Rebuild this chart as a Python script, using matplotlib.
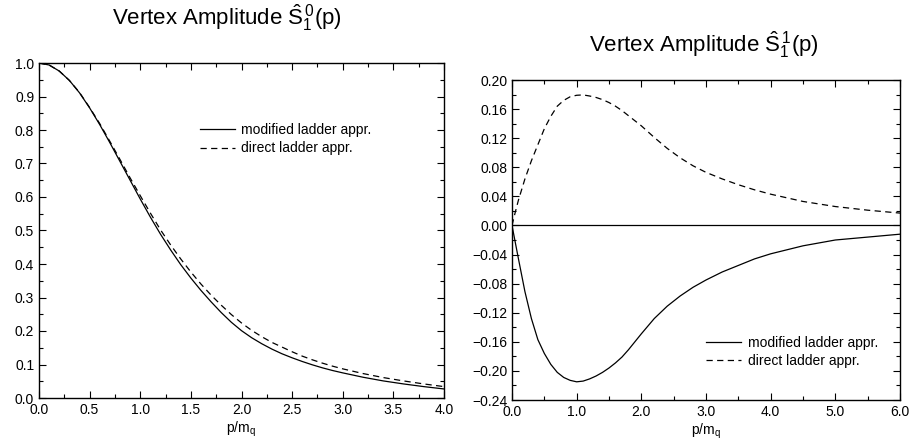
import numpy as np
import matplotlib
matplotlib.use("Agg")
import matplotlib.pyplot as plt
from matplotlib.ticker import MultipleLocator, FuncFormatter

plt.rcParams['font.family'] = ['Liberation Sans', 'DejaVu Sans']
plt.rcParams['mathtext.fontset'] = 'custom'
plt.rcParams['mathtext.rm'] = 'Liberation Sans'
plt.rcParams['mathtext.it'] = 'Liberation Sans:italic'

# left panel: S_1^0(p)
p_left = [0.0, 0.1, 0.2, 0.3, 0.4, 0.5, 0.6, 0.7, 0.8, 0.9, 1.0, 1.1, 1.2,
          1.3, 1.4, 1.5, 1.6, 1.7, 1.8, 1.9, 2.0, 2.1, 2.2, 2.3, 2.4, 2.5,
          2.6, 2.7, 2.8, 2.9, 3.0, 3.2, 3.4, 3.6, 3.8, 4.0]
s0_modified = [1.000, 0.994, 0.976, 0.948, 0.911, 0.866, 0.816, 0.762, 0.706,
               0.650, 0.594, 0.540, 0.489, 0.442, 0.398, 0.358, 0.321, 0.287,
               0.255, 0.226, 0.201, 0.180, 0.162, 0.146, 0.132, 0.120, 0.109,
               0.099, 0.090, 0.082, 0.075, 0.062, 0.051, 0.042, 0.034, 0.027]
s0_direct = [1.000, 0.994, 0.976, 0.948, 0.912, 0.867, 0.819, 0.766, 0.712,
             0.657, 0.604, 0.552, 0.502, 0.457, 0.415, 0.376, 0.340, 0.307,
             0.277, 0.249, 0.224, 0.202, 0.183, 0.166, 0.152, 0.138, 0.125,
             0.114, 0.104, 0.095, 0.087, 0.073, 0.061, 0.051, 0.042, 0.034]

# right panel: S_1^1(p)
p_right = [0.0, 0.05, 0.1, 0.2, 0.3, 0.4, 0.5, 0.6, 0.7, 0.8, 0.9, 1.0, 1.1,
           1.2, 1.3, 1.4, 1.5, 1.6, 1.7, 1.8, 1.9, 2.0, 2.2, 2.4, 2.6, 2.8,
           3.0, 3.25, 3.5, 3.75, 4.0, 4.5, 5.0, 5.5, 6.0]
s1_modified = [0.0, -0.023, -0.046, -0.091, -0.128, -0.157, -0.176, -0.191,
               -0.202, -0.209, -0.213, -0.215, -0.214, -0.211, -0.207, -0.202,
               -0.196, -0.189, -0.181, -0.171, -0.160, -0.149, -0.128, -0.111,
               -0.097, -0.085, -0.075, -0.064, -0.055, -0.046, -0.039, -0.028,
               -0.020, -0.016, -0.012]
s1_direct = [0.0, 0.018, 0.035, 0.064, 0.089, 0.111, 0.133, 0.150, 0.164,
             0.172, 0.177, 0.179, 0.1795, 0.178, 0.176, 0.173, 0.169, 0.164,
             0.158, 0.151, 0.144, 0.137, 0.121, 0.106, 0.093, 0.082, 0.073,
             0.064, 0.056, 0.049, 0.043, 0.033, 0.026, 0.021, 0.017]

labels = ['modified ladder appr.', 'direct ladder appr.']
DASH = (0, (5, 3.5))


def style_axes(ax):
    ax.tick_params(which='both', direction='in', top=True, right=True,
                   labelsize=10, width=0.8)
    ax.tick_params(which='major', length=5)
    ax.tick_params(which='minor', length=3)
    for s in ax.spines.values():
        s.set_linewidth(1.0)


def fmt(decimals):
    def f(v, pos):
        s = '%.*f' % (decimals, v)
        if float(s) == 0:
            s = '%.*f' % (decimals, 0.0)
        return s.replace('-', '\u2212')
    return FuncFormatter(f)


fig = plt.figure(figsize=(9.11, 4.44), dpi=100)

ax1 = fig.add_axes([39/911, 1-398/444, 405/911, 335/444])
ax1.plot(p_left, s0_modified, color='black', lw=0.9, label=labels[0])
ax1.plot(p_left, s0_direct, color='black', lw=0.9, linestyle=DASH, label=labels[1])
ax1.set_xlim(0, 4)
ax1.set_ylim(0, 1)
ax1.xaxis.set_major_locator(MultipleLocator(0.5))
ax1.xaxis.set_minor_locator(MultipleLocator(0.25))
ax1.yaxis.set_major_locator(MultipleLocator(0.1))
ax1.yaxis.set_minor_locator(MultipleLocator(0.05))
ax1.xaxis.set_major_formatter(fmt(1))
ax1.yaxis.set_major_formatter(fmt(1))
style_axes(ax1)
ax1.set_xlabel('p/m$_\\mathrm{q}$', fontsize=10, labelpad=2)
ax1.legend(loc='upper left', bbox_to_anchor=(0.397, 0.82), frameon=False,
           fontsize=10, borderpad=0, borderaxespad=0, handlelength=2.5,
           handletextpad=0.5, labelspacing=0.3)

ax2 = fig.add_axes([512/911, 1-400/444, 388/911, 320/444])
ax2.axhline(0, color='black', lw=0.9)
ax2.plot(p_right, s1_modified, color='black', lw=0.9, label=labels[0])
ax2.plot(p_right, s1_direct, color='black', lw=0.9, linestyle=DASH, label=labels[1])
ax2.set_xlim(0, 6)
ax2.set_ylim(-0.24, 0.20)
ax2.xaxis.set_major_locator(MultipleLocator(1.0))
ax2.xaxis.set_minor_locator(MultipleLocator(0.5))
ax2.yaxis.set_major_locator(MultipleLocator(0.04))
ax2.yaxis.set_minor_locator(MultipleLocator(0.02))
ax2.xaxis.set_major_formatter(fmt(1))
ax2.yaxis.set_major_formatter(fmt(2))
style_axes(ax2)
ax2.set_xlabel('p/m$_\\mathrm{q}$', fontsize=10, labelpad=2)
ax2.legend(loc='upper left', bbox_to_anchor=(0.5, 0.2), frameon=False,
           fontsize=10, borderpad=0, borderaxespad=0, handlelength=2.5,
           handletextpad=0.5, labelspacing=0.3)

fig.text(227/911, 1-18/444, 'Vertex Amplitude $\\hat{\\mathrm{S}}_1^{\\,0}$(p)',
         ha='center', va='center', fontsize=16)
fig.text(704/911, 1-45/444, 'Vertex Amplitude $\\hat{\\mathrm{S}}_1^{\\,1}$(p)',
         ha='center', va='center', fontsize=16)

fig.savefig('out.png', dpi=100)
